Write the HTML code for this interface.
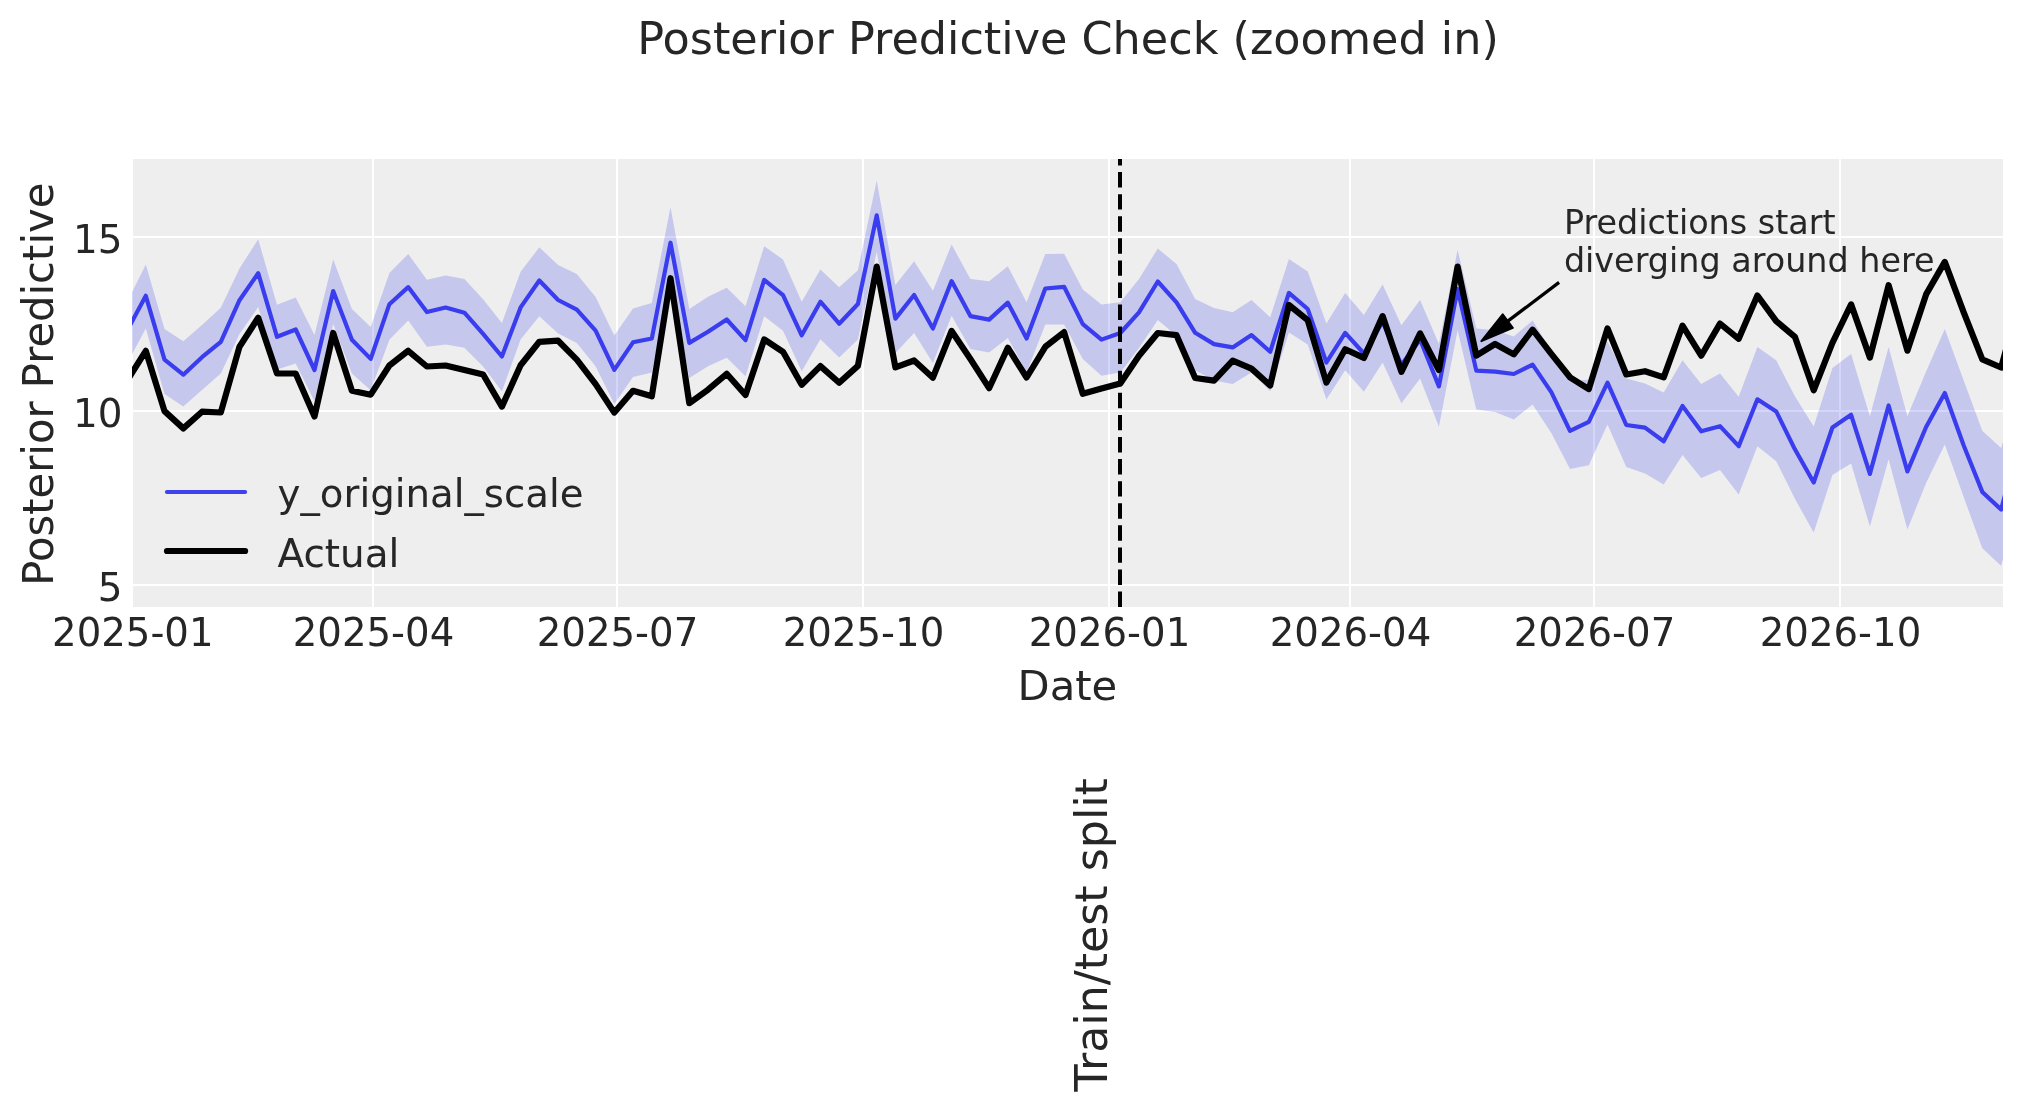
<!DOCTYPE html>
<html lang="en">
<head>
<meta charset="utf-8">
<title>Posterior Predictive Check (zoomed in)</title>
<style>
html,body{margin:0;padding:0;background:#fff;}
body{width:2023px;height:1111px;overflow:hidden;}
svg{display:block;will-change:transform;font-family:"DejaVu Sans", "Liberation Sans", sans-serif;fill:#262626;}
svg text{fill:#262626;}
</style>
</head>
<body>
<svg width="2023" height="1111" viewBox="0 0 2023 1111">
<defs><clipPath id="c"><rect x="132.1" y="159.0" width="1870.9" height="448.0"/></clipPath></defs>
<rect width="2023" height="1111" fill="#fff"/>
<rect x="133.0" y="159.0" width="1870.0" height="448.0" fill="#eeeeee"/>
<g clip-path="url(#c)">
<line x1="373" x2="373" y1="159.0" y2="607.0" stroke="#fff" stroke-width="2"/>
<line x1="617" x2="617" y1="159.0" y2="607.0" stroke="#fff" stroke-width="2"/>
<line x1="863" x2="863" y1="159.0" y2="607.0" stroke="#fff" stroke-width="2"/>
<line x1="1109" x2="1109" y1="159.0" y2="607.0" stroke="#fff" stroke-width="2"/>
<line x1="1350" x2="1350" y1="159.0" y2="607.0" stroke="#fff" stroke-width="2"/>
<line x1="1594" x2="1594" y1="159.0" y2="607.0" stroke="#fff" stroke-width="2"/>
<line x1="1840" x2="1840" y1="159.0" y2="607.0" stroke="#fff" stroke-width="2"/>
<line x1="133.0" x2="2003.0" y1="237" y2="237" stroke="#fff" stroke-width="2"/>
<line x1="133.0" x2="2003.0" y1="411" y2="411" stroke="#fff" stroke-width="2"/>
<line x1="133.0" x2="2003.0" y1="585" y2="585" stroke="#fff" stroke-width="2"/>
<polygon points="127.1,302.2 145.8,264.6 164.5,328.9 183.3,341.2 202.0,325.0 220.8,307.7 239.5,268.5 258.2,239.2 277.0,304.8 295.7,297.6 314.5,334.9 333.2,259.6 351.9,309.1 370.7,326.9 389.4,273.1 408.2,254.1 426.9,279.8 445.6,275.4 464.4,279.0 483.1,299.2 501.9,323.0 520.6,271.8 539.3,247.3 558.1,265.1 576.8,274.0 595.6,296.9 614.3,335.6 633.0,308.5 651.8,302.9 670.5,207.3 689.3,309.1 708.0,296.7 726.7,287.8 745.5,306.2 764.2,246.2 783.0,259.5 801.7,301.8 820.4,269.5 839.2,287.3 857.9,270.2 876.7,180.6 895.4,285.1 914.1,261.3 932.9,290.7 951.6,244.5 970.4,279.0 989.1,281.2 1007.8,266.3 1026.6,302.3 1045.3,254.1 1064.1,253.8 1082.8,289.6 1101.5,304.5 1120.3,302.3 1139.0,279.0 1157.8,248.5 1176.5,264.1 1195.2,299.0 1214.0,307.9 1232.7,312.3 1251.5,300.1 1270.2,317.2 1288.9,258.9 1307.7,271.6 1326.4,323.5 1345.2,293.0 1363.9,315.0 1382.6,284.5 1401.4,325.3 1420.1,299.9 1438.9,343.9 1457.6,249.9 1476.3,328.6 1495.1,330.3 1513.8,336.5 1532.6,320.4 1551.3,351.3 1570.0,381.0 1588.8,379.8 1607.5,341.4 1626.3,378.6 1645.0,383.5 1663.7,392.6 1682.5,360.3 1701.2,384.1 1720.0,373.6 1738.7,396.7 1757.4,346.9 1776.2,360.3 1794.9,396.2 1813.7,426.4 1832.4,368.1 1851.1,354.0 1869.9,416.2 1888.6,346.9 1907.4,416.2 1926.1,371.6 1944.8,329.1 1963.6,380.3 1982.3,430.8 2001.1,448.1 2019.8,385.0 2019.8,500.0 2001.1,565.7 1982.3,548.3 1963.6,496.8 1944.8,444.4 1926.1,483.0 1907.4,529.5 1888.6,459.2 1869.9,526.5 1851.1,463.6 1832.4,475.0 1813.7,532.5 1794.9,498.8 1776.2,461.2 1757.4,446.3 1738.7,494.5 1720.0,470.1 1701.2,478.0 1682.5,454.9 1663.7,484.6 1645.0,473.5 1626.3,467.1 1607.5,424.4 1588.8,465.2 1570.0,468.9 1551.3,433.0 1532.6,404.6 1513.8,419.4 1495.1,412.0 1476.3,409.5 1457.6,330.3 1438.9,426.8 1420.1,378.6 1401.4,403.3 1382.6,362.5 1363.9,391.7 1345.2,370.2 1326.4,399.5 1307.7,344.6 1288.9,332.4 1270.2,391.3 1251.5,372.4 1232.7,384.0 1214.0,380.6 1195.2,370.2 1176.5,335.7 1157.8,320.1 1139.0,347.9 1120.3,372.4 1101.5,375.7 1082.8,359.0 1064.1,324.6 1045.3,324.6 1026.6,372.4 1007.8,337.9 989.1,352.4 970.4,349.0 951.6,315.7 932.9,363.0 914.1,332.9 895.4,353.0 876.7,251.7 857.9,339.6 839.2,357.4 820.4,339.2 801.7,371.2 783.0,330.7 764.2,316.2 745.5,376.3 726.7,357.8 708.0,366.3 689.3,377.9 670.5,279.5 651.8,372.5 633.0,377.0 614.3,404.1 595.6,366.3 576.8,342.9 558.1,333.4 539.3,316.2 520.6,339.6 501.9,391.3 483.1,366.5 464.4,347.7 445.6,344.4 426.9,346.7 408.2,320.4 389.4,339.8 370.7,390.3 351.9,373.5 333.2,324.0 314.5,401.2 295.7,363.6 277.0,369.5 258.2,307.1 239.5,333.9 220.8,373.5 202.0,389.9 183.3,406.5 164.5,393.9 145.8,328.5 127.1,363.3" fill="#2a2eec" fill-opacity="0.2"/>
<polyline points="127.1,330.8 145.8,295.8 164.5,359.6 183.3,374.7 202.0,357.2 220.8,341.8 239.5,300.2 258.2,273.2 277.0,336.8 295.7,329.5 314.5,370.0 333.2,291.0 351.9,339.8 370.7,358.9 389.4,304.2 408.2,287.1 426.9,312.1 445.6,307.5 464.4,312.7 483.1,333.9 501.9,356.5 520.6,307.4 539.3,280.5 558.1,300.0 576.8,309.6 595.6,330.7 614.3,369.8 633.0,342.3 651.8,338.5 670.5,242.7 689.3,342.9 708.0,331.8 726.7,319.5 745.5,340.2 764.2,279.9 783.0,295.1 801.7,335.3 820.4,301.7 839.2,323.7 857.9,304.0 876.7,215.4 895.4,318.6 914.1,295.0 932.9,328.6 951.6,281.1 970.4,316.1 989.1,319.6 1007.8,302.6 1026.6,338.5 1045.3,288.5 1064.1,286.8 1082.8,324.1 1101.5,339.6 1120.3,333.0 1139.0,312.3 1157.8,281.5 1176.5,302.3 1195.2,332.8 1214.0,344.1 1232.7,347.4 1251.5,335.1 1270.2,351.8 1288.9,292.9 1307.7,309.0 1326.4,362.5 1345.2,332.9 1363.9,353.5 1382.6,321.6 1401.4,365.0 1420.1,339.5 1438.9,386.4 1457.6,289.1 1476.3,370.6 1495.1,371.6 1513.8,374.0 1532.6,364.6 1551.3,392.2 1570.0,430.9 1588.8,421.9 1607.5,382.6 1626.3,425.0 1645.0,427.6 1663.7,441.3 1682.5,405.9 1701.2,431.3 1720.0,426.2 1738.7,446.2 1757.4,399.3 1776.2,411.4 1794.9,449.3 1813.7,482.5 1832.4,427.5 1851.1,414.8 1869.9,473.9 1888.6,405.5 1907.4,471.4 1926.1,427.0 1944.8,393.0 1963.6,445.3 1982.3,491.9 2001.1,509.6 2019.8,440.0" fill="none" stroke="#2a2eec" stroke-opacity="0.9" stroke-width="4.17" stroke-linejoin="round"/>
<polyline points="127.1,380.7 145.8,350.8 164.5,411.1 183.3,428.4 202.0,411.7 220.8,412.5 239.5,346.7 258.2,317.8 277.0,373.5 295.7,373.5 314.5,416.5 333.2,333.0 351.9,390.7 370.7,394.7 389.4,365.5 408.2,350.8 426.9,366.5 445.6,365.5 464.4,369.9 483.1,374.5 501.9,406.6 520.6,365.2 539.3,341.8 558.1,340.7 576.8,359.6 595.6,384.1 614.3,412.6 633.0,390.8 651.8,396.3 670.5,278.2 689.3,403.2 708.0,389.7 726.7,373.8 745.5,395.0 764.2,339.4 783.0,351.8 801.7,384.8 820.4,366.1 839.2,382.8 857.9,365.9 876.7,266.6 895.4,367.4 914.1,360.5 932.9,377.7 951.6,331.0 970.4,359.0 989.1,388.2 1007.8,347.7 1026.6,377.5 1045.3,346.8 1064.1,332.1 1082.8,393.8 1101.5,388.6 1120.3,383.5 1139.0,355.7 1157.8,333.0 1176.5,335.2 1195.2,378.0 1214.0,380.6 1232.7,360.6 1251.5,368.6 1270.2,385.5 1288.9,305.0 1307.7,320.1 1326.4,382.6 1345.2,349.2 1363.9,357.9 1382.6,316.1 1401.4,371.8 1420.1,333.4 1438.9,370.0 1457.6,266.6 1476.3,355.7 1495.1,344.0 1513.8,354.4 1532.6,329.7 1551.3,353.8 1570.0,377.3 1588.8,389.1 1607.5,328.4 1626.3,374.5 1645.0,371.2 1663.7,377.4 1682.5,325.6 1701.2,355.7 1720.0,323.6 1738.7,338.8 1757.4,295.5 1776.2,321.1 1794.9,336.8 1813.7,390.3 1832.4,342.8 1851.1,304.4 1869.9,357.6 1888.6,285.2 1907.4,350.7 1926.1,294.4 1944.8,261.9 1963.6,312.2 1982.3,359.4 2001.1,367.5 2019.8,300.0" fill="none" stroke="#000" stroke-width="6.2" stroke-linejoin="round"/>
<line x1="1120" x2="1120" y1="607.0" y2="159.0" stroke="#000" stroke-width="4" stroke-dasharray="15.42 6.66"/>
</g>
<line x1="167" x2="245.1" y1="492" y2="492" stroke="#2a2eec" stroke-opacity="0.9" stroke-width="4.17" stroke-linecap="round"/>
<line x1="167" x2="245.1" y1="551" y2="551" stroke="#000" stroke-width="6.2" stroke-linecap="round"/>
<text x="277.6" y="507.0" font-size="38.7">y_original_scale</text>
<text x="277.5" y="566.6" font-size="38.9">Actual</text>
<text x="1563.9" y="233.7" font-size="33.4">Predictions start</text>
<text x="1563.9" y="272.4" font-size="33.4">diverging around here</text>
<line x1="1559.1" y1="282.4" x2="1504.5" y2="323.6" stroke="#000" stroke-width="3.2" stroke-linecap="butt"/>
<polygon points="1481.4,341.1 1502.7,314.4 1512.8,327.9" fill="#000" stroke="#000" stroke-width="2" stroke-linejoin="round"/>
<text x="132.8" y="646.3" font-size="38.65" text-anchor="middle">2025-01</text>
<text x="373.5" y="646.3" font-size="38.65" text-anchor="middle">2025-04</text>
<text x="617.5" y="646.3" font-size="38.65" text-anchor="middle">2025-07</text>
<text x="863.5" y="646.3" font-size="38.65" text-anchor="middle">2025-10</text>
<text x="1109.5" y="646.3" font-size="38.65" text-anchor="middle">2026-01</text>
<text x="1350.5" y="646.3" font-size="38.65" text-anchor="middle">2026-04</text>
<text x="1594.5" y="646.3" font-size="38.65" text-anchor="middle">2026-07</text>
<text x="1840.5" y="646.3" font-size="38.65" text-anchor="middle">2026-10</text>
<text x="122.5" y="253.0" font-size="38.9" text-anchor="end">15</text>
<text x="122.5" y="427.0" font-size="38.9" text-anchor="end">10</text>
<text x="122.5" y="601.0" font-size="38.9" text-anchor="end">5</text>
<text x="1067.4" y="699.8" font-size="41.7" text-anchor="middle">Date</text>
<text transform="translate(52.7 384.2) rotate(-90) scale(1 1.02)" font-size="41.7" text-anchor="middle">Posterior Predictive</text>
<text transform="translate(1106.8 934.8) rotate(-90)" font-size="44.3" text-anchor="middle">Train/test split</text>
<text x="1068" y="54.0" font-size="44.5" text-anchor="middle">Posterior Predictive Check (zoomed in)</text>
</svg>
</body>
</html>
